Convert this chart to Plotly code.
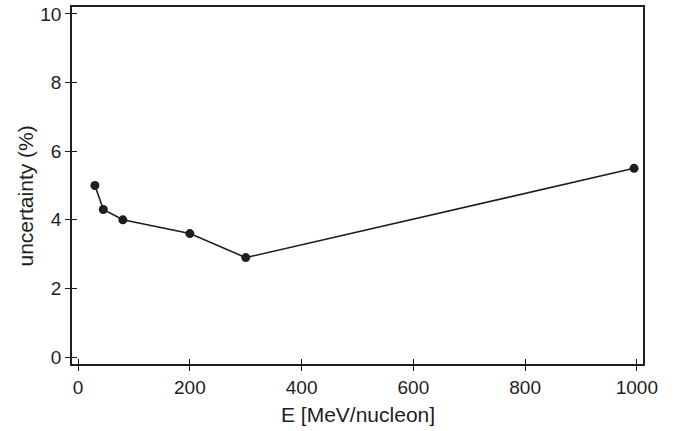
import plotly.graph_objects as go

# Beam energy (MeV/nucleon) and relative uncertainty (%)
energy = [30, 45, 80, 200, 300, 995]
uncertainty = [5.0, 4.3, 4.0, 3.6, 2.9, 5.5]

x_ticks = [0, 200, 400, 600, 800, 1000]
y_ticks = [0, 2, 4, 6, 8, 10]

x_title = "E [MeV/nucleon]"
y_title = "uncertainty (%)"

ink = "#1e1e1e"
family = "Liberation Sans, Arial, sans-serif"
tick_font = dict(family=family, size=19, color=ink)
title_font = dict(family=family, size=21, color=ink)

fig = go.Figure()
fig.add_trace(go.Scatter(
    x=energy, y=uncertainty, mode="lines+markers",
    line=dict(color=ink, width=1.6),
    marker=dict(color=ink, size=9),
    showlegend=False,
))
# companion trace on the overlay axes so the inner tick marks are drawn
fig.add_trace(go.Scatter(
    x=energy, y=uncertainty, mode="lines", xaxis="x2", yaxis="y2",
    line=dict(width=0), opacity=0, hoverinfo="skip", showlegend=False,
))

xr = [-11, 1011]
yr = [-0.2, 10.2]
ticks_style = dict(showgrid=False, zeroline=False, ticklen=5, tickwidth=1.3,
                   tickcolor=ink, tickfont=tick_font)

fig.update_layout(
    width=687, height=431,
    margin=dict(l=72, r=44, t=4, b=67),
    paper_bgcolor="white", plot_bgcolor="white",
    font=dict(family=family, color=ink),
    xaxis=dict(range=xr, tickvals=x_ticks, ticks="outside", showline=True,
               mirror=True, linecolor=ink, linewidth=1.5, **ticks_style),
    yaxis=dict(range=yr, tickvals=y_ticks, ticks="outside", showline=True,
               mirror=True, linecolor=ink, linewidth=1.5, **ticks_style),
    xaxis2=dict(range=xr, tickvals=x_ticks, ticks="inside", overlaying="x",
                side="bottom", showticklabels=False, showline=False,
                **ticks_style),
    yaxis2=dict(range=yr, tickvals=y_ticks, ticks="inside", overlaying="y",
                side="left", showticklabels=False, showline=False,
                **ticks_style),
    annotations=[
        dict(text=x_title, xref="paper", yref="paper", x=0.5, y=0,
             xanchor="center", yanchor="middle", yshift=-50, showarrow=False,
             font=title_font),
        dict(text=y_title, xref="paper", yref="paper", x=0, y=0.5,
             xanchor="center", yanchor="middle", xshift=-47, yshift=-11,
             textangle=-90, showarrow=False, font=title_font),
    ],
)

fig.write_html("out.html")
